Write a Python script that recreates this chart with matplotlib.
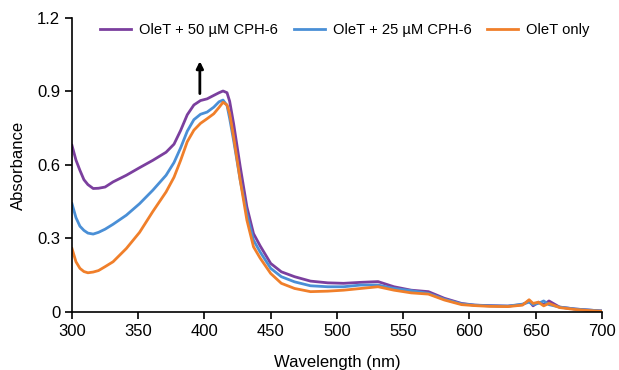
import matplotlib
matplotlib.use("Agg")
import matplotlib.pyplot as plt

plt.rcParams['font.family'] = ['Liberation Sans', 'DejaVu Sans']

wavelength = [300, 303, 306, 309, 312, 316, 320, 325, 331, 341, 351, 361, 371, 377, 382,
              387, 392, 397, 402, 407, 411, 414, 417, 419, 422, 427, 432, 437, 442, 450,
              458, 468, 480, 493, 505, 518, 531, 543, 556, 569, 581, 594, 604, 615, 629,
              640, 645, 648, 652, 656, 660, 668, 680, 690, 700]

cph_50 = [0.68, 0.62, 0.578, 0.54, 0.52, 0.504, 0.505, 0.51, 0.531, 0.558, 0.589, 0.619, 0.652, 0.685, 0.741,
          0.805, 0.845, 0.863, 0.87, 0.884, 0.895, 0.902, 0.895, 0.86, 0.768, 0.592, 0.429, 0.32, 0.27, 0.198,
          0.164, 0.144, 0.126, 0.119, 0.117, 0.121, 0.124, 0.103, 0.089, 0.083, 0.056, 0.035, 0.028, 0.026, 0.024,
          0.03, 0.045, 0.025, 0.04, 0.03, 0.045, 0.02, 0.012, 0.008, 0.004]

cph_25 = [0.442, 0.385, 0.35, 0.333, 0.322, 0.318, 0.325, 0.338, 0.358, 0.395, 0.442, 0.497, 0.558, 0.61, 0.67,
          0.738, 0.785, 0.807, 0.816, 0.836, 0.858, 0.865, 0.843, 0.79, 0.70, 0.537, 0.40, 0.293, 0.245, 0.178,
          0.144, 0.123, 0.107, 0.103, 0.103, 0.11, 0.11, 0.096, 0.087, 0.076, 0.052, 0.033, 0.028, 0.025, 0.024,
          0.032, 0.04, 0.03, 0.035, 0.045, 0.03, 0.02, 0.012, 0.008, 0.004]

olet_only = [0.259, 0.205, 0.178, 0.165, 0.16, 0.163, 0.169, 0.185, 0.205, 0.259, 0.325, 0.41, 0.49, 0.55, 0.619,
             0.695, 0.742, 0.77, 0.789, 0.809, 0.835, 0.856, 0.845, 0.81, 0.714, 0.537, 0.375, 0.266, 0.22, 0.157,
             0.117, 0.096, 0.083, 0.085, 0.089, 0.096, 0.103, 0.089, 0.078, 0.073, 0.049, 0.03, 0.026, 0.023, 0.022,
             0.028, 0.05, 0.035, 0.04, 0.025, 0.035, 0.018, 0.01, 0.006, 0.003]

fig = plt.figure(figsize=(6.19, 3.70), dpi=100)
ax = fig.add_axes([0.1163, 0.1568, 0.8562, 0.7946])

ax.plot(wavelength, cph_50, color='#7b3f9e', lw=2, label='OleT + 50 µM CPH-6')
ax.plot(wavelength, cph_25, color='#4a8fd6', lw=2, label='OleT + 25 µM CPH-6')
ax.plot(wavelength, olet_only, color='#f07f2a', lw=2, label='OleT only')

# arrow showing increase with CPH-6
ax.annotate('', xy=(396.5, 1.035), xytext=(396.5, 0.88),
            arrowprops=dict(arrowstyle='-|>', color='black', lw=2, mutation_scale=10))

ax.set_xlim(300, 700)
ax.set_ylim(0, 1.2)
ax.set_xticks(range(300, 701, 50))
ax.set_yticks([0, 0.3, 0.6, 0.9, 1.2])
ax.set_yticklabels(['0', '0.3', '0.6', '0.9', '1.2'])
ax.tick_params(labelsize=12, direction='out', length=5, width=1.2)
ax.spines['top'].set_visible(False)
ax.spines['right'].set_visible(False)
ax.spines['left'].set_linewidth(1.2)
ax.spines['bottom'].set_linewidth(1.2)
ax.set_xlabel('Wavelength (nm)', fontsize=12, labelpad=12)
ax.set_ylabel('Absorbance', fontsize=12, labelpad=8)

fig.legend(loc='center left', bbox_to_anchor=(0.162, 0.918), ncol=3, frameon=False,
           fontsize=10.6, handlelength=2.1, handletextpad=0.55, columnspacing=1.05,
           borderaxespad=0, borderpad=0)

fig.savefig('out.png', dpi=100)
